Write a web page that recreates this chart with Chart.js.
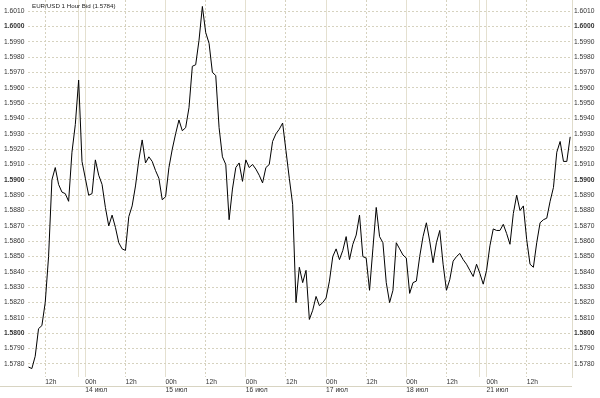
<!DOCTYPE html>
<html><head><meta charset="utf-8">
<script src="https://cdn.jsdelivr.net/npm/chart.js@4.4.0/dist/chart.umd.min.js"></script>
<style>html,body{margin:0;padding:0;background:#fff;}#wrap{width:600px;height:398px;position:relative;}</style>
</head><body><div id="wrap"><canvas id="c"></canvas></div>
<script>
// ---- data ----
const chartTitle = 'EUR/USD 1 Hour Bid (1.5784)';
const startHour = -17; // first hourly bar, in hours relative to 14 июл 00h
const prices = [
 1.5778,1.5777,1.5785,1.5803,1.5805,1.5820,1.5850,1.5900,1.5908,1.5897,
 1.5892,1.5891,1.5886,1.5918,1.5936,1.5965,1.5912,1.5901,1.5890,1.5891,
 1.5913,1.5903,1.5897,1.5882,1.5870,1.5877,1.5869,1.5859,1.5855,1.5854,
 1.5876,1.5883,1.5896,1.5913,1.5926,1.5911,1.5915,1.5912,1.5906,1.5901,
 1.5887,1.5889,1.5908,1.5920,1.5930,1.5939,1.5932,1.5934,1.5947,1.5974,
 1.5975,1.5991,1.6013,1.5996,1.5989,1.5970,1.5968,1.5934,1.5915,1.5910,
 1.5874,1.5894,1.5908,1.5911,1.5899,1.5913,1.5908,1.5910,1.5907,1.5903,
 1.5898,1.5908,1.5910,1.5925,1.5930,1.5933,1.5937,1.5919,1.5901,1.5884,
 1.5820,1.5843,1.5833,1.5841,1.5809,1.5815,1.5824,1.5818,1.5820,1.5823,
 1.5834,1.5850,1.5855,1.5848,1.5854,1.5863,1.5848,1.5858,1.5864,1.5877,
 1.5850,1.5849,1.5828,1.5855,1.5882,1.5863,1.5859,1.5833,1.5820,1.5828,
 1.5859,1.5855,1.5851,1.5849,1.5826,1.5833,1.5834,1.5850,1.5863,1.5872,
 1.5860,1.5846,1.5859,1.5867,1.5845,1.5828,1.5835,1.5847,1.5850,1.5852,
 1.5848,1.5845,1.5841,1.5837,1.5845,1.5839,1.5832,1.5841,1.5857,1.5868,
 1.5867,1.5867,1.5871,1.5865,1.5858,1.5878,1.5890,1.5880,1.5883,1.5861,
 1.5845,1.5843,1.5859,1.5872,1.5874,1.5875,1.5886,1.5895,1.5918,1.5925,
 1.5912,1.5912,1.5928
];
const yTicks = [1.578,1.579,1.580,1.581,1.582,1.583,1.584,1.585,1.586,1.587,1.588,1.589,
                1.590,1.591,1.592,1.593,1.594,1.595,1.596,1.597,1.598,1.599,1.600,1.601];
const xTickHours  = [-12, -2, 0, 12, 24, 36, 48, 60, 72, 84, 96, 108, 118, 120, 132];
const xTimeLabels = ['12h','','00h','12h','00h','12h','00h','12h','00h','12h','00h','12h','','00h','12h'];
const xDateLabels = ['','','14 июл','','15 июл','','16 июл','','17 июл','','18 июл','','','21 июл',''];
const solidHours  = [-2, 0, 24, 48, 72, 96, 118, 120];

// ---- chart ----
const FONT = "'Liberation Sans', Arial, sans-serif";
const points = prices.map((p, i) => ({x: startHour + i, y: p}));
const isSolid = c => !!(c && c.tick) && solidHours.includes(c.tick.value);
const isMajor = c => !!(c && c.tick) && Math.abs(c.tick.value * 100 - Math.round(c.tick.value * 100)) < 1e-6;
const yFont = c => ({ family: FONT, size: 6.7, weight: isMajor(c) ? 'bold' : 'normal' });

const decor = {
  id: 'decor',
  afterDraw(chart) {
    const {ctx, chartArea} = chart;
    ctx.save();
    ctx.strokeStyle = '#d8d4c2';
    ctx.lineWidth = 1;
    ctx.beginPath();
    ctx.moveTo(0, chartArea.bottom + 9.5);
    ctx.lineTo(chartArea.right, chartArea.bottom + 9.5);
    ctx.stroke();
    ctx.fillStyle = '#222';
    ctx.font = "6.2px " + FONT;
    ctx.textBaseline = 'middle';
    ctx.fillText(chartTitle, chartArea.left + 4, 6);
    ctx.restore();
  }
};

new Chart(document.getElementById('c'), {
  type: 'line',
  data: { datasets: [{ data: points, borderColor: '#000', borderWidth: 1, pointRadius: 0, tension: 0, fill: false }] },
  options: {
    responsive: true, maintainAspectRatio: false, animation: false,
    layout: { padding: { left: 4, right: 0, top: 0, bottom: 0 } },
    plugins: { legend: { display: false }, tooltip: { enabled: false } },
    scales: {
      x: {
        type: 'linear', min: -17.15, max: 145.55,
        afterBuildTicks: s => { s.ticks = xTickHours.map(v => ({ value: v })); },
        afterFit: s => { s.height = 21; s.paddingLeft = 0; s.paddingRight = 0; },
        grid: {
          drawTicks: false,
          color: c => isSolid(c) ? '#e4e0d0' : '#d6d2bf',
          lineWidth: 1
        },
        border: { display: false, dash: c => isSolid(c) ? [] : [2, 2] },
        ticks: {
          autoSkip: false, maxRotation: 0, align: 'start', padding: 1,
          color: '#333', font: { family: FONT, size: 6.7, lineHeight: 1.2 },
          callback: v => { const i = xTickHours.indexOf(v); if (i < 0) return ''; return xDateLabels[i] ? [xTimeLabels[i], xDateLabels[i]] : xTimeLabels[i]; }
        }
      },
      y: {
        position: 'left', min: 1.57715, max: 1.60172,
        afterBuildTicks: s => { s.ticks = yTicks.map(v => ({ value: v })); },
        afterFit: s => { s.width = 24; s.paddingTop = 0; s.paddingBottom = 0; },
        grid: { drawTicks: false, color: '#d6d2bf', lineWidth: 1 },
        border: { display: false, dash: [2, 2] },
        ticks: { crossAlign: 'far', padding: 0, color: '#333', font: yFont, callback: v => v.toFixed(4) }
      },
      y2: {
        position: 'right', min: 1.57715, max: 1.60172,
        afterBuildTicks: s => { s.ticks = yTicks.map(v => ({ value: v })); },
        afterFit: s => { s.width = 28; s.paddingTop = 0; s.paddingBottom = 0; },
        grid: { display: false, drawTicks: false },
        border: { display: true, color: '#e0dccb', width: 1 },
        ticks: { padding: 2, color: '#333', font: yFont, callback: v => v.toFixed(4) }
      }
    }
  },
  plugins: [decor]
});
</script></body></html>
